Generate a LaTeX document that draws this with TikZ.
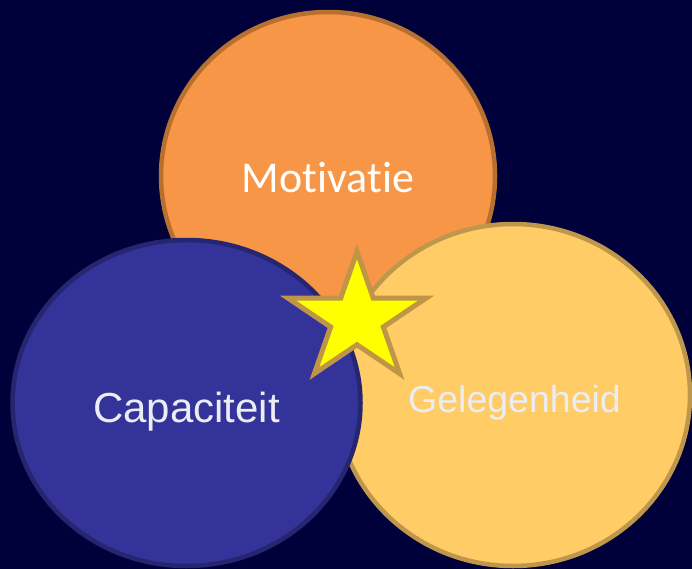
\documentclass[tikz,border=0pt]{standalone}
\usepackage{fontspec}
\setmainfont{Liberation Sans}
\newfontfamily\calibrifont[Ligatures=NoCommon]{Carlito}
\definecolor{bgnavy}{RGB}{0,0,58}
\definecolor{orfill}{RGB}{247,150,70}
\definecolor{orline}{RGB}{184,112,48}
\definecolor{yefill}{RGB}{255,204,102}
\definecolor{yeline}{RGB}{190,150,76}
\definecolor{blfill}{RGB}{51,51,153}
\definecolor{blline}{RGB}{37,37,112}
\definecolor{stfill}{RGB}{255,255,0}
\definecolor{stline}{RGB}{190,150,70}
\definecolor{lighttxt}{RGB}{236,236,244}
\tikzset{
  bubble/.style={line width=4.5pt},
  lbl/.style={anchor=base, inner sep=0pt},
}
\begin{document}
\begin{tikzpicture}[x=1pt,y=-1pt]
  \useasboundingbox (0,0) rectangle (692,569);
  \fill[bgnavy] (0,0) rectangle (692,569);
  % circles
  \draw[bubble, fill=orfill, draw=orline] (328,176) ellipse [x radius=167, y radius=164];
  \draw[bubble, fill=yefill, draw=yeline] (513,395) ellipse [x radius=177, y radius=171];
  \draw[bubble, fill=blfill, draw=blline] (186.5,403) ellipse [x radius=174, y radius=163];
  % star
  \begin{scope}[shift={(357,319)}, yscale=0.93]
    \draw[line width=5pt, fill=stfill, draw=stline, line join=miter]
      (-90:72.5) -- (-54:27.7) -- (-18:72.5) -- (18:27.7) -- (54:72.5) -- (90:27.7)
      -- (126:72.5) -- (162:27.7) -- (198:72.5) -- (234:27.7) -- cycle;
  \end{scope}
  % labels
  \node[lbl, text=white, font=\calibrifont\fontsize{44}{52}\selectfont] (mot) at (328,193) {Motivatie};
  \node[lbl, text=lighttxt, font=\fontsize{42}{50}\selectfont] (cap) at (186.5,422) {Capaciteit};
  \node[lbl, text=lighttxt, font=\fontsize{37.5}{45}\selectfont] (gel) at (514.5,412) {Gelegenheid};
\end{tikzpicture}
\end{document}
